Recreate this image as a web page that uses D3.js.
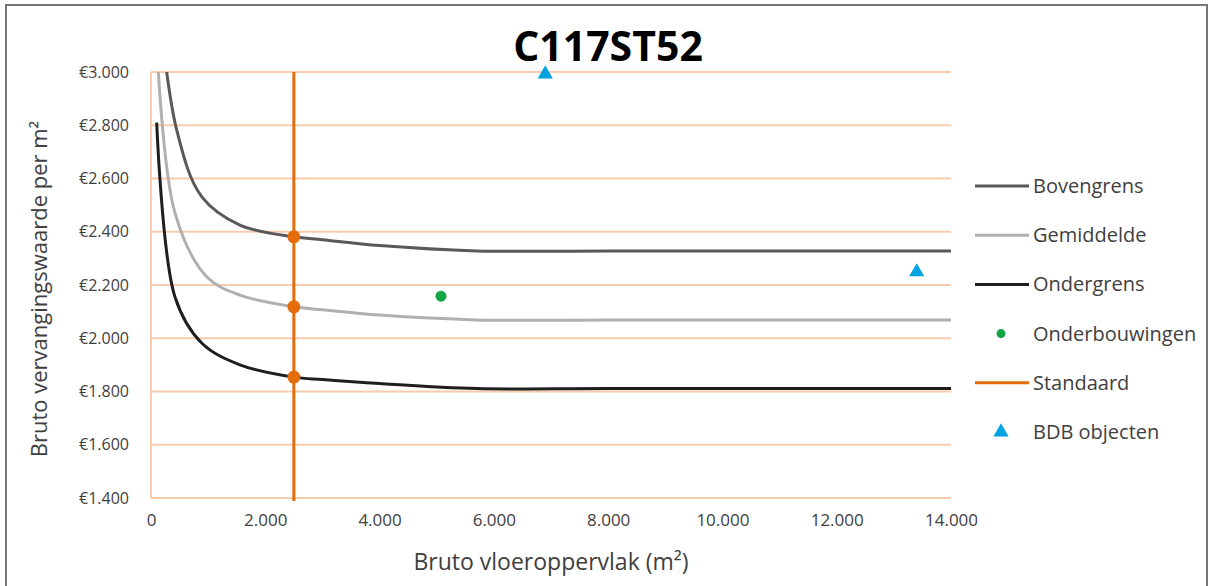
<!DOCTYPE html>
<html>
<head>
<meta charset="utf-8">
<style>
  body { margin: 0; background: #fff; }
  svg { font-family: "Open Sans", "Liberation Sans", sans-serif; }
</style>
</head>
<body>
<svg width="1213" height="586"></svg>
<script src="https://d3js.org/d3.v7.min.js"></script>
<script>
    // --- data ---
    var bovengrens = [[100, 3320], [450, 2782], [887, 2532], [1557, 2425], [2500, 2381], [3000, 2370], [4000, 2348], [5700, 2328], [8000, 2328], [14000, 2328]];
    var gemiddelde = [[100, 3110], [420, 2470], [975, 2231], [1557, 2162], [2500, 2118], [3000, 2107], [4000, 2087], [5700, 2069], [8000, 2069], [14000, 2069]];
    var ondergrens = [[100, 2810], [420, 2155], [887, 1982], [1557, 1900], [2500, 1854], [3000, 1845], [4000, 1830], [5700, 1811], [8000, 1811], [14000, 1811]];
    var onderbouwingen = [[5075, 2158]];
    var bdbObjecten = [[6900, 2992], [13400, 2249]];
    var standaardX = 2500;
    var standaardY = [2381, 2118, 1854];
    var xTicks = [0, 2000, 4000, 6000, 8000, 10000, 12000, 14000];
    var yTicks = [1400, 1600, 1800, 2000, 2200, 2400, 2600, 2800, 3000];
    var legendNames = ["Bovengrens", "Gemiddelde", "Ondergrens", "Onderbouwingen", "Standaard", "BDB objecten"];

    var svg = d3.select("svg"),
        width = +svg.attr("width"),
        height = +svg.attr("height");

    var orange = "#E46C0A",
        grid = "#F8CBAD",
        textCol = "#404040";

    var nl = d3.formatLocale({ decimal: ",", thousands: ".", grouping: [3], currency: ["€", ""] });
    var fmtX = nl.format(",.0f"),
        fmtY = nl.format("$,.0f");

    var x = d3.scaleLinear().domain([0, 14000]).range([151, 951]);
    var y = d3.scaleLinear().domain([1400, 3000]).range([498, 72]);

    // outer frame
    svg.append("rect")
        .attr("x", 6).attr("y", 5)
        .attr("width", 1201).attr("height", 600)
        .attr("fill", "none")
        .attr("stroke", "#767676")
        .attr("stroke-width", 2);

    svg.append("text")
        .attr("x", 608).attr("y", 61)
        .attr("text-anchor", "middle")
        .style("font-size", "41px")
        .style("font-weight", "bold")
        .attr("fill", "#000")
        .text("C117ST52");

    svg.append("defs").append("clipPath").attr("id", "plot")
        .append("rect")
        .attr("x", x(0)).attr("y", y(3000))
        .attr("width", x(14000) - x(0)).attr("height", y(1400) - y(3000));

    // gridlines
    svg.append("g").selectAll("line")
        .data(yTicks)
        .enter().append("line")
        .attr("x1", x(0)).attr("x2", x(14000))
        .attr("y1", function(d) { return y(d); })
        .attr("y2", function(d) { return y(d); })
        .attr("stroke", grid)
        .attr("stroke-width", 2);
    svg.append("line")
        .attr("x1", x(0)).attr("x2", x(0))
        .attr("y1", y(3000)).attr("y2", y(1400))
        .attr("stroke", grid)
        .attr("stroke-width", 2);

    // axes
    var yAxis = svg.append("g")
        .attr("transform", "translate(" + x(0) + ",0)")
        .call(d3.axisLeft(y).tickValues(yTicks).tickFormat(fmtY).tickSize(0).tickPadding(22));
    var xAxis = svg.append("g")
        .attr("transform", "translate(0," + y(1400) + ")")
        .call(d3.axisBottom(x).tickValues(xTicks).tickFormat(fmtX).tickSize(0).tickPadding(16));
    [xAxis, yAxis].forEach(function(a) {
        a.select(".domain").remove();
        a.selectAll("text")
            .style("font-family", "Open Sans, sans-serif")
            .attr("fill", textCol);
    });
    yAxis.selectAll("text").style("font-size", "16px");
    xAxis.selectAll("text").style("font-size", "17px");

    svg.append("text")
        .attr("x", 551).attr("y", 570)
        .attr("text-anchor", "middle")
        .style("font-size", "23px")
        .attr("fill", textCol)
        .text("Bruto vloeroppervlak (m²)");

    svg.append("text")
        .attr("transform", "translate(47,289) rotate(-90)")
        .attr("text-anchor", "middle")
        .style("font-size", "22px")
        .attr("fill", textCol)
        .text("Bruto vervangingswaarde per m²");

    var line = d3.line()
        .x(function(d) { return x(d[0]); })
        .y(function(d) { return y(d[1]); })
        .curve(d3.curveCatmullRom.alpha(0.5));

    var plot = svg.append("g").attr("clip-path", "url(#plot)");
    var series = [
        [bovengrens, "#595959"],
        [gemiddelde, "#B0B0B0"],
        [ondergrens, "#1E1E1E"]
    ];
    series.forEach(function(s) {
        plot.append("path")
            .attr("d", line(s[0]))
            .attr("fill", "none")
            .attr("stroke", s[1])
            .attr("stroke-width", 3);
    });

    // standaard
    svg.append("line")
        .attr("x1", x(standaardX)).attr("x2", x(standaardX))
        .attr("y1", y(3000)).attr("y2", y(1400) + 3)
        .attr("stroke", orange)
        .attr("stroke-width", 3);
    svg.append("g").selectAll("circle")
        .data(standaardY)
        .enter().append("circle")
        .attr("cx", x(standaardX))
        .attr("cy", function(d) { return y(d); })
        .attr("r", 6.5)
        .attr("fill", orange);

    svg.append("g").selectAll("circle")
        .data(onderbouwingen)
        .enter().append("circle")
        .attr("cx", function(d) { return x(d[0]); })
        .attr("cy", function(d) { return y(d[1]); })
        .attr("r", 5.5)
        .attr("fill", "#13A543");

    var tri = d3.symbol().type(d3.symbolTriangle).size(100);
    svg.append("g").selectAll("path")
        .data(bdbObjecten)
        .enter().append("path")
        .attr("d", tri)
        .attr("transform", function(d) { return "translate(" + x(d[0]) + "," + y(d[1]) + ")"; })
        .attr("fill", "#00A3E0");

    // legend
    var lg = svg.append("g");
    var legendY = d3.scalePoint().domain(legendNames).range([186, 432]);
    var legendStyle = {
        "Bovengrens": ["line", "#595959"],
        "Gemiddelde": ["line", "#B0B0B0"],
        "Ondergrens": ["line", "#1E1E1E"],
        "Onderbouwingen": ["dot", "#13A543"],
        "Standaard": ["line", orange],
        "BDB objecten": ["tri", "#00A3E0"]
    };
    legendNames.forEach(function(name) {
        var ly = legendY(name), st = legendStyle[name];
        if (st[0] == "line") {
            lg.append("line").attr("x1", 975).attr("x2", 1029)
                .attr("y1", ly).attr("y2", ly)
                .attr("stroke", st[1]).attr("stroke-width", 3);
        } else if (st[0] == "dot") {
            lg.append("circle").attr("cx", 1001).attr("cy", ly).attr("r", 4.5).attr("fill", st[1]);
        } else {
            lg.append("path").attr("d", tri).attr("transform", "translate(1001," + ly + ")").attr("fill", st[1]);
        }
        lg.append("text")
            .attr("x", 1033).attr("y", ly)
            .attr("dy", "0.35em")
            .style("font-size", "20px")
            .attr("fill", textCol)
            .text(name);
    });
</script>
</body>
</html>
